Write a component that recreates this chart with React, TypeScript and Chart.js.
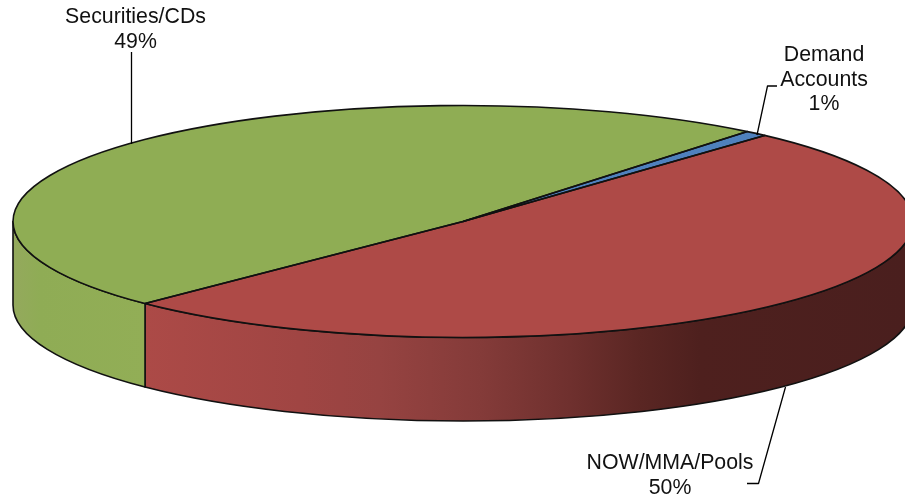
import React, { useEffect, useRef } from "react";
import { Chart, registerables } from "chart.js";

Chart.register(...registerables);

const categories = ["Demand Accounts", "NOW/MMA/Pools", "Securities/CDs"];
const shares = [0.8, 50.8, 48.4];
const percentLabels = ["1%", "50%", "49%"];
const labelLines = [["Demand", "Accounts"], ["NOW/MMA/Pools"], ["Securities/CDs"]];
const faceColors = ["#4F81BD", "#AE4A47", "#8FAD54"];

const FONT = '21.3px "Liberation Sans", Arial, sans-serif';
const RX = 450;
const RY = 116;
const DEPTH = 83.5;

const sideStops: Array<Array<[number, string]>> = [
  [[0, "#4F81BD"], [1, "#3B6390"]],
  [[145, "#AC4A47"], [300, "#A04543"], [380, "#964341"], [480, "#843B39"], [570, "#6F302E"], [640, "#5A2623"], [700, "#4E201E"], [905, "#4A1F1E"]],
  [[13, "#94A95D"], [40, "#8FAC55"], [146, "#92AE56"]],
];

const labelCenters = [
  { x: 824, y: [61, 85.5, 110] },
  { x: 670, y: [469, 493.5] },
  { x: 135.5, y: [23, 47.5] },
];
const leaders = [
  [[777, 86], [767.5, 86], [757, 135]],
  [[785.5, 387], [758.5, 483.5], [747, 483.5]],
  [[131.5, 52], [131.5, 144]],
];

const pie3d = {
  id: "pie3d",
  beforeDatasetsDraw(chart: any) {
    const ctx = chart.ctx;
    const arcs = chart.getDatasetMeta(0).data;
    const { x: cx, y: cy } = arcs[0].getProps(["x", "y"], true);
    ctx.save();
    ctx.lineWidth = 1.6;
    ctx.strokeStyle = "#111";
    ctx.lineJoin = "round";
    arcs.forEach((arc: any, i: number) => {
      const p = arc.getProps(["startAngle", "endAngle"], true);
      const twoPi = Math.PI * 2;
      // Visible wall: the part of the slice on the front half of the ellipse.
      for (const shift of [0, twoPi, -twoPi]) {
        const a1 = Math.max(p.startAngle + shift, 0);
        const a2 = Math.min(p.endAngle + shift, Math.PI);
        if (a2 <= a1) continue;
        const grad = ctx.createLinearGradient(0, 0, 905, 0);
        sideStops[i].forEach(([x, c]) => grad.addColorStop(Math.min(1, Math.max(0, x / 905)), c));
        ctx.beginPath();
        ctx.ellipse(cx, cy, RX, RY, 0, a1, a2);
        ctx.ellipse(cx, cy + DEPTH, RX, RY, 0, a2, a1, true);
        ctx.closePath();
        ctx.fillStyle = grad;
        ctx.fill();
        ctx.stroke();
      }
    });
    ctx.restore();
    // The slices themselves are squashed into the tilted top face.
    const r = arcs[0].getProps(["outerRadius"], true).outerRadius;
    ctx.save();
    ctx.translate(cx, cy);
    ctx.scale(RX / r, RY / r);
    ctx.translate(-cx, -cy);
  },
  afterDatasetsDraw(chart: any) {
    const ctx = chart.ctx;
    ctx.restore();
    const arcs = chart.getDatasetMeta(0).data;
    ctx.save();
    ctx.lineWidth = 1.6;
    ctx.strokeStyle = "#111";
    ctx.lineJoin = "round";
    arcs.forEach((arc: any) => {
      const p = arc.getProps(["x", "y", "startAngle", "endAngle"], true);
      ctx.beginPath();
      ctx.moveTo(p.x, p.y);
      ctx.ellipse(p.x, p.y, RX, RY, 0, p.startAngle, p.endAngle);
      ctx.closePath();
      ctx.stroke();
    });
    ctx.lineWidth = 1.3;
    ctx.strokeStyle = "#000";
    leaders.forEach((pts) => {
      ctx.beginPath();
      pts.forEach(([x, y], k) => (k ? ctx.lineTo(x, y) : ctx.moveTo(x, y)));
      ctx.stroke();
    });
    ctx.fillStyle = "#111";
    ctx.font = FONT;
    ctx.textAlign = "center";
    ctx.textBaseline = "alphabetic";
    categories.forEach((_, i) => {
      const lines = [...labelLines[i], percentLabels[i]];
      lines.forEach((t, k) => ctx.fillText(t, labelCenters[i].x, labelCenters[i].y[k]));
    });
    ctx.restore();
  },
};

export default function App() {
  const ref = useRef<HTMLCanvasElement>(null);
  useEffect(() => {
    const chart = new Chart(ref.current!, {
      type: "pie",
      data: {
        labels: categories,
        datasets: [
          {
            data: shares,
            backgroundColor: faceColors,
            borderWidth: 0,
            clip: false,
          } as any,
        ],
      },
      options: {
        responsive: false,
        animation: false,
        rotation: 39.2,
        layout: { padding: { left: 21, right: 0, top: 0, bottom: 57 } },
        plugins: { legend: { display: false }, tooltip: { enabled: false } },
      },
      plugins: [pie3d],
    });
    return () => chart.destroy();
  }, []);
  return (
    <canvas
      ref={ref}
      width={905}
      height={500}
      style={{ position: "absolute", left: 0, top: 0, display: "block", background: "#fff" }}
    />
  );
}
